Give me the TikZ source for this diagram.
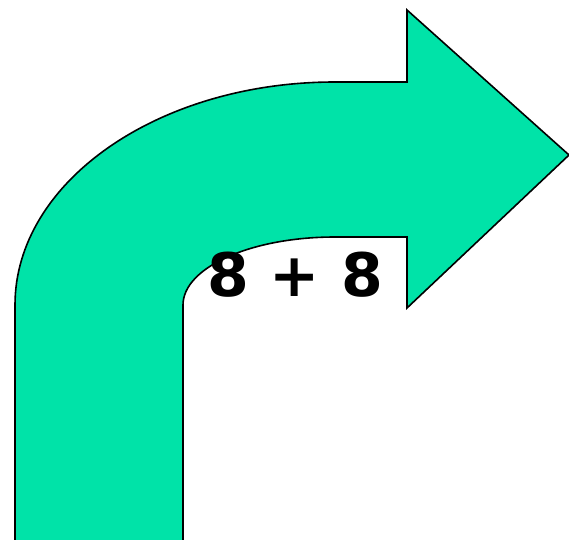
\documentclass[tikz,border=0pt]{standalone}
\usepackage{fontspec}
\setmainfont{DejaVu Sans}
\usepackage{xcolor}
\usepackage{tikz}
\definecolor{arrowgreen}{RGB}{0,227,168}

\begin{document}
\begin{tikzpicture}[
  x=1pt, y=1pt,
  bent/.style={draw=black, fill=arrowgreen, line width=1.6pt, line join=miter},
  sum/.style={font=\fontsize{60}{60}\selectfont\bfseries, inner sep=0pt},
]

%% ── Frame (reference proportions) ────────────────────────────────────────
\useasboundingbox (0,0) rectangle (569,539);
\clip (0,0) rectangle (569,539);

%% ── Bent arrow body and head ─────────────────────────────────────────────
\filldraw[bent]
  (15,-10) -- (15,234)
  arc[start angle=180, end angle=90, x radius=320, y radius=223]
  -- (407,457) -- (407,529) -- (569,384) -- (407,231) -- (407,302)
  -- (335,302)
  arc[start angle=90, end angle=180, x radius=152, y radius=68]
  -- (183,-10) -- cycle;

%% ── Label ────────────────────────────────────────────────────────────────
\node[sum] (total) at (295,264) {8 + 8};

\end{tikzpicture}
\end{document}
